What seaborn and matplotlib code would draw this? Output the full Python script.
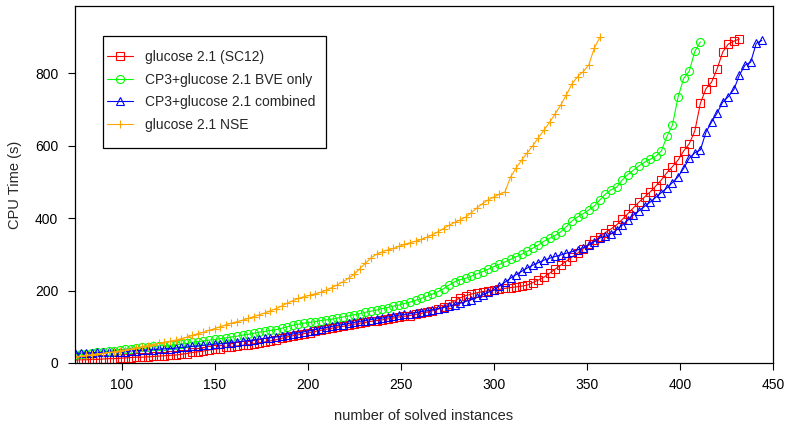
import numpy as np
import pandas as pd
import matplotlib
matplotlib.use("Agg")
import matplotlib.pyplot as plt
from matplotlib.lines import Line2D
from matplotlib.patches import Rectangle
import seaborn as sns

sns.set_style("ticks")
plt.rcParams['font.family'] = ['Liberation Sans', 'DejaVu Sans']

# ---------------- data ----------------
series_names = ["glucose 2.1 (SC12)", "CP3+glucose 2.1 BVE only",
                "CP3+glucose 2.1 combined", "glucose 2.1 NSE"]
series_colors = ["#FF0000", "#00FF00", "#0000FF", "#FFA500"]
series_markers = ["s", "o", "^", "+"]
series_msize = [5.4, 5.8, 6.4, 6.3]

# CPU times (s) read at every 3rd solved instance, starting at 75 solved instances
first_instance = 75
instance_step = 3

time_sc12 = [8, 9, 9, 10, 10, 11, 12, 12, 13, 14,
             15, 16, 16, 17, 18, 19, 20, 21, 22, 24,
             26, 29, 31, 33, 36, 38, 40, 43, 45, 47,
             49, 51, 53, 56, 58, 61, 64, 68, 72, 75,
             78, 81, 84, 87, 90, 93, 96, 99, 101, 104,
             107, 110, 112, 115, 117, 119, 122, 124, 127, 129,
             131, 134, 137, 140, 144, 148, 155, 163, 172, 180,
             186, 190, 194, 197, 199, 201, 203, 206, 208, 210,
             212, 215, 222, 229, 237, 248, 259, 270, 281, 292,
             303, 315, 327, 338, 348, 360, 370, 381, 396, 412,
             428, 444, 458, 472, 488, 505, 525, 542, 560, 585,
             605, 640, 717, 757, 775, 812, 858, 880, 888, 894]
time_bve = [22, 24, 26, 28, 29, 31, 33, 34, 36, 38,
            40, 41, 43, 44, 46, 47, 48, 49, 50, 52,
            54, 57, 59, 61, 63, 65, 67, 69, 72, 74,
            77, 79, 82, 85, 87, 90, 92, 96, 100, 104,
            107, 110, 112, 114, 117, 119, 121, 124, 127, 130,
            133, 136, 140, 143, 146, 150, 153, 157, 160, 164,
            168, 173, 178, 184, 190, 197, 205, 215, 224, 230,
            234, 240, 246, 252, 259, 266, 272, 279, 286, 293,
            300, 308, 317, 326, 336, 344, 352, 362, 376, 392,
            403, 412, 422, 433, 450, 466, 478, 485, 505, 520,
            532, 544, 554, 562, 570, 585, 625, 657, 734, 785,
            805, 860, 886]
time_combined = [27, 27, 28, 28, 29, 29, 30, 30, 31, 31,
                 33, 34, 35, 36, 37, 38, 39, 40, 41, 43,
                 44, 46, 47, 49, 50, 52, 53, 55, 56, 58,
                 60, 62, 64, 66, 68, 70, 72, 74, 77, 80,
                 83, 86, 89, 92, 95, 98, 101, 104, 106, 109,
                 112, 115, 117, 120, 122, 124, 127, 129, 132, 134,
                 136, 139, 142, 144, 147, 150, 153, 157, 161, 165,
                 170, 175, 181, 188, 195, 201, 212, 223, 234, 244,
                 253, 262, 270, 277, 284, 289, 294, 298, 303, 307,
                 312, 318, 325, 335, 345, 350, 356, 367, 380, 394,
                 408, 420, 432, 444, 457, 470, 483, 498, 514, 537,
                 565, 580, 588, 637, 665, 690, 720, 735, 755, 795,
                 822, 830, 882, 890]
time_nse = [17, 19, 21, 23, 25, 27, 29, 31, 34, 36,
            39, 42, 45, 48, 51, 54, 57, 60, 63, 67,
            71, 76, 81, 85, 90, 95, 100, 105, 110, 114,
            118, 123, 128, 133, 138, 144, 150, 157, 165, 172,
            178, 183, 187, 191, 195, 201, 208, 216, 224, 234,
            245, 260, 275, 290, 300, 307, 312, 316, 322, 327,
            332, 336, 341, 347, 354, 362, 371, 380, 388, 395,
            403, 415, 428, 440, 450, 458, 466, 472, 513, 538,
            560, 580, 600, 622, 643, 664, 688, 712, 740, 770,
            790, 804, 822, 869, 899]

x_ticks = [100, 150, 200, 250, 300, 350, 400, 450]
y_ticks = [0, 200, 400, 600, 800]

series_times = [time_sc12, time_bve, time_combined, time_nse]

frames = []
for name, times in zip(series_names, series_times):
    n = first_instance + instance_step * np.arange(len(times))
    frames.append(pd.DataFrame({"solver": name, "instances": n, "cpu": times}))
df = pd.concat(frames, ignore_index=True)

# ---------------- figure ----------------
W, H = 786, 430
fig = plt.figure(figsize=(W / 100, H / 100), dpi=100)
ax = fig.add_axes([75 / W, 1 - 363 / H, 698 / W, 357 / H])

for name, color, mk, ms in zip(series_names, series_colors, series_markers, series_msize):
    sub = df[df["solver"] == name]
    sns.lineplot(data=sub, x="instances", y="cpu", ax=ax, color=color,
                 estimator=None, sort=False, linewidth=0.8,
                 marker=mk, markersize=ms,
                 markerfacecolor="none", markeredgecolor=color,
                 markeredgewidth=0.8, legend=False)

ax.set_xlim(75, 450)
ax.set_ylim(0, 985)
ax.set_xticks(x_ticks)
ax.set_xticklabels([str(t) for t in x_ticks])
ax.set_yticks(y_ticks)
ax.set_yticklabels([str(t) for t in y_ticks])
ax.tick_params(axis="both", direction="out", length=5, width=0.8,
               labelsize=10, colors="black")
ax.tick_params(axis="x", pad=6)
ax.tick_params(axis="y", pad=7)
for s in ax.spines.values():
    s.set_visible(True)
    s.set_linewidth(0.9)
    s.set_color("black")

ax.set_xlabel("number of solved instances", fontsize=10.5, labelpad=12)
ax.set_ylabel("CPU Time (s)", fontsize=10.5, labelpad=9)

# legend
handles = [Line2D([0], [0], color=c, marker=m, markersize=ms,
                  markerfacecolor="none", markeredgecolor=c, markeredgewidth=0.8,
                  linewidth=0.8)
           for c, m, ms in zip(series_colors, series_markers, series_msize)]
leg = fig.legend(handles, series_names, loc="upper left",
                 bbox_to_anchor=(107 / W, 1 - 50 / H), frameon=False,
                 borderpad=0, borderaxespad=0, fontsize=10,
                 handlelength=1.87, handletextpad=0.85, labelspacing=0.62)
fig.add_artist(Rectangle((103 / W, 1 - 148 / H), 223 / W, 112 / H,
                         transform=fig.transFigure, fill=False,
                         edgecolor="black", linewidth=0.9))

fig.savefig("out.png", dpi=100)
